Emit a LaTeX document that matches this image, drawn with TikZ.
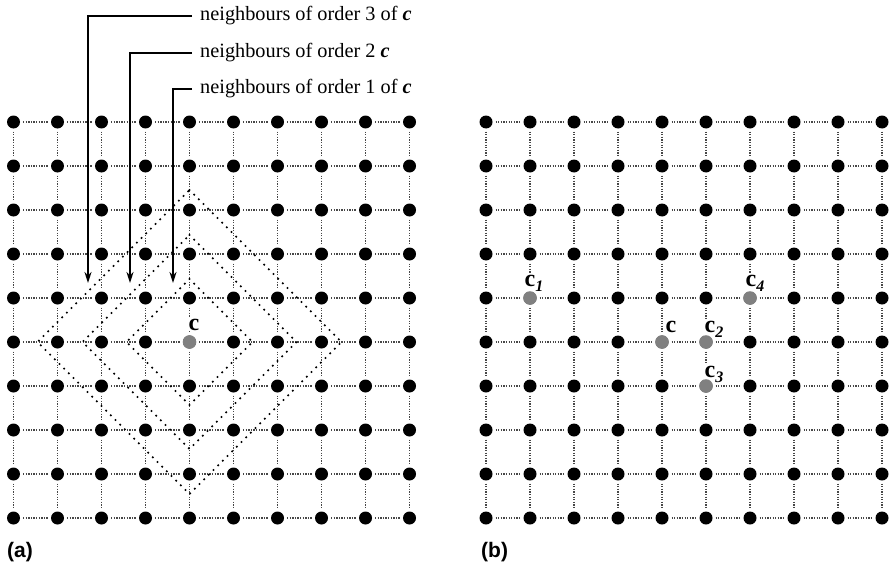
\documentclass[tikz,border=0pt]{standalone}
\usepackage{fontspec}
\setmainfont{Liberation Serif}
\newfontfamily\sansb{Liberation Sans}
\usetikzlibrary{arrows.meta}
\newcommand{\csub}[1]{c\raisebox{-0.22em}{\fontsize{16}{16}\selectfont\bfseries\itshape #1}}
\begin{document}
\begin{tikzpicture}[x=1pt,y=-1pt,
  dot/.style={circle,fill=black,minimum size=13pt,inner sep=0pt,outer sep=3pt},
  gdot/.style={dot,fill=gray,minimum size=13.6pt},
  gridln/.style={draw=black!72,line width=1.5pt,dash pattern=on 1.3pt off 1.3pt},
  diam/.style={draw=black,line width=2.4pt,line cap=round,dash pattern=on 0pt off 6.6pt},
  arr/.style={draw=black,line width=2pt,-{Stealth[length=11pt,width=7pt]}},
  lbl/.style={anchor=west,inner xsep=8pt,inner ysep=0pt,font=\fontsize{20.3}{22}\selectfont},
  clab/.style={anchor=base west,inner sep=0.5pt,fill=white,font=\fontsize{24}{26}\selectfont\bfseries},
  panel/.style={anchor=base west,inner sep=0pt,font=\sansb\fontsize{21}{24}\selectfont\bfseries}]
\useasboundingbox (0,0) rectangle (890,567);

% dots
\foreach \i in {0,...,9}
  \foreach \j in {0,...,9} {
    \node[dot] (A-\i-\j) at ({13.5+44*\i},{122+44*\j}) {};
    \node[dot] (B-\i-\j) at ({486+44*\i},{122+44*\j}) {};
  }

% grid lines
\foreach \i in {0,...,8}
  \foreach \j in {0,...,9} {
    \pgfmathtruncatemacro\k{\i+1}
    \draw[gridln] (A-\i-\j) -- (A-\k-\j);
    \draw[gridln] (A-\j-\i) -- (A-\j-\k);
    \draw[gridln] (B-\i-\j) -- (B-\k-\j);
    \draw[gridln] (B-\j-\i) -- (B-\j-\k);
  }

% diamonds
\foreach \r in {63,107,152}
  \draw[diam] (A-4-5.center) ++(0,-\r) -- ++(\r,\r) -- ++(-\r,\r) -- ++(-\r,-\r) -- cycle;

% labels and arrows
\node[lbl] (n3) at (192,16) {neighbours of order 3 of \textbf{\textit{c}}};
\node[lbl] (n2) at (192,53) {neighbours of order 2 \textbf{\textit{c}}};
\node[lbl] (n1) at (192,89) {neighbours of order 1 of \textbf{\textit{c}}};
\coordinate (t3) at (88,283);
\coordinate (t2) at (130,283);
\coordinate (t1) at (173,283);
\draw[arr] (n3.west) -| (t3);
\draw[arr] (n2.west) -| (t2);
\draw[arr] (n1.west) -| (t1);

% point labels
\node[clab] (lc) at (188,330) {c};
\node[clab] (rc) at (665,332) {c};
\node[clab] (rc1) at (524,286) {\csub{1}};
\node[clab] (rc2) at (704,332) {\csub{2}};
\node[clab] (rc3) at (704,377) {\csub{3}};
\node[clab] (rc4) at (745,286) {\csub{4}};

% grey dots (on top)
\node[gdot] (gA) at (A-4-5.center) {};
\node[gdot] (gc) at (B-4-5.center) {};
\node[gdot] (gc2) at (B-5-5.center) {};
\node[gdot] (gc3) at (B-5-6.center) {};
\node[gdot] (gc4) at (B-6-4.center) {};
\node[gdot] (gc1) at (B-1-4.center) {};

% panel labels
\node[panel] (pa) at (7,557) {(a)};
\node[panel] (pb) at (481,557) {(b)};
\end{tikzpicture}
\end{document}
